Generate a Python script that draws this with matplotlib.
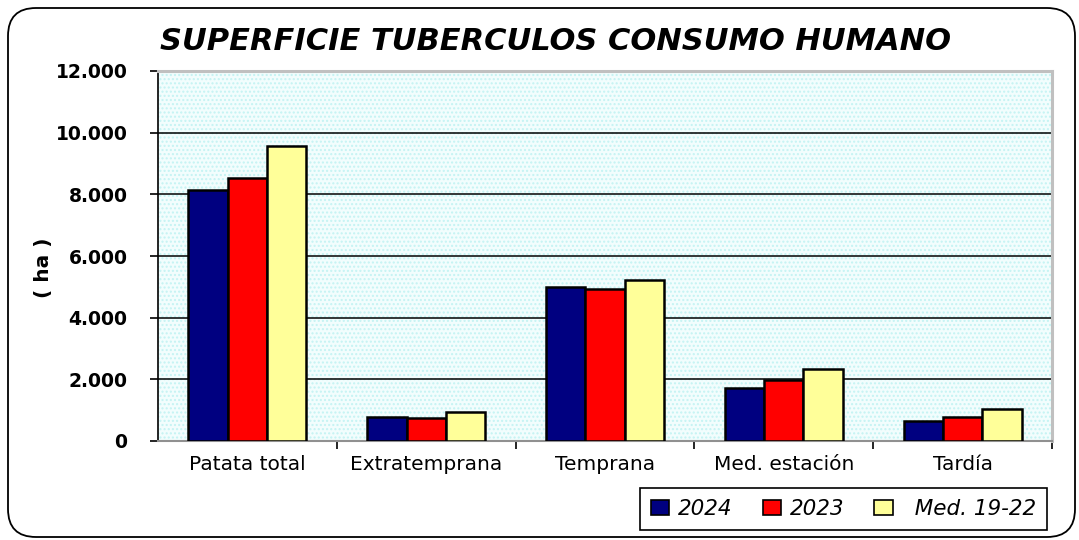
import numpy as np
import matplotlib
matplotlib.use("Agg")
import matplotlib.pyplot as plt
from matplotlib.patches import FancyBboxPatch, Rectangle
from matplotlib.ticker import FuncFormatter, FixedLocator

plt.rcParams['font.family'] = ['DejaVu Sans']

categories = ["Patata total", "Extratemprana", "Temprana", "Med. estación", "Tardía"]
series_labels = ["2024", "2023", "  Med. 19-22"]
v2024 = [8140, 770, 4985, 1710, 660]
v2023 = [8520, 750, 4940, 1980, 770]
vmed = [9580, 950, 5230, 2325, 1050]
colors = ["#000080", "#ff0000", "#ffff99"]

title = "SUPERFICIE TUBERCULOS CONSUMO HUMANO"
ylabel = "( ha )"

fig = plt.figure(figsize=(10.79, 5.40), dpi=100)
ax = fig.add_axes([158/1079, 99/540, (1052-158)/1079, (441-71)/540])
ax.set_facecolor("#f2fdfd")
ax.add_patch(Rectangle((0, 0), 1, 1, transform=ax.transAxes, facecolor="none",
                       edgecolor="#c4f3f3", hatch="....", linewidth=0, zorder=0))

x = np.arange(len(categories))
w = 0.22
for i, (vals, c, lab) in enumerate(zip([v2024, v2023, vmed], colors, series_labels)):
    ax.bar(x + (i - 1) * w, vals, width=w, color=c, edgecolor="black",
           linewidth=1.8, label=lab, zorder=3)

ax.set_xlim(-0.5, len(categories) - 0.5)
ax.set_ylim(0, 12000)
ax.set_yticks(np.arange(0, 12001, 2000))
ax.yaxis.set_major_formatter(FuncFormatter(lambda v, p: f"{int(v):,}".replace(",", ".")))
for yv in range(2000, 12000, 2000):
    ax.axhline(yv, color="black", linewidth=1.1, zorder=1)

ax.set_xticks(x)
ax.set_xticklabels(categories, fontsize=14.5)
ax.xaxis.set_minor_locator(FixedLocator(np.arange(0.5, len(categories) - 0.5 + 0.01, 1.0)))
ax.tick_params(axis="x", which="major", length=0, pad=10)
ax.tick_params(axis="x", which="minor", length=6, width=1.2, color="black")
ax.tick_params(axis="y", length=6, width=1.2, pad=16, labelsize=13.5)
for lbl in ax.get_yticklabels():
    lbl.set_fontweight("bold")

ax.spines["left"].set_color("black")
ax.spines["left"].set_linewidth(1.2)
for s in ["top", "right"]:
    ax.spines[s].set_color("#c0c0c0")
    ax.spines[s].set_linewidth(2.2)
ax.spines["bottom"].set_color("#909090")
ax.spines["bottom"].set_linewidth(1.5)

fig.text(43/1079, 1 - 268/540, ylabel, rotation=90, fontsize=14.5, fontweight="bold",
         ha="center", va="center")
fig.text(556/1079, 1 - 41/540, title, fontsize=22, fontweight="bold", style="italic",
         ha="center", va="center")

leg = fig.legend(loc="lower right", bbox_to_anchor=(1047/1079, 10/540), ncol=3,
                 frameon=True, fancybox=False, edgecolor="black", framealpha=1,
                 prop={"size": 15.5, "style": "italic"}, handlelength=0.85, handleheight=0.65,
                 handletextpad=0.4, columnspacing=1.4, borderpad=0.5, borderaxespad=0)
leg.get_frame().set_linewidth(1.2)
for h in leg.legend_handles:
    h.set_linewidth(1.2)

fig.patches.append(FancyBboxPatch((8, 3), 1067, 529, boxstyle="round,pad=0,rounding_size=28",
                                  transform=None, facecolor="none", edgecolor="black",
                                  linewidth=1.3, figure=fig))

fig.savefig("out.png", dpi=100)
